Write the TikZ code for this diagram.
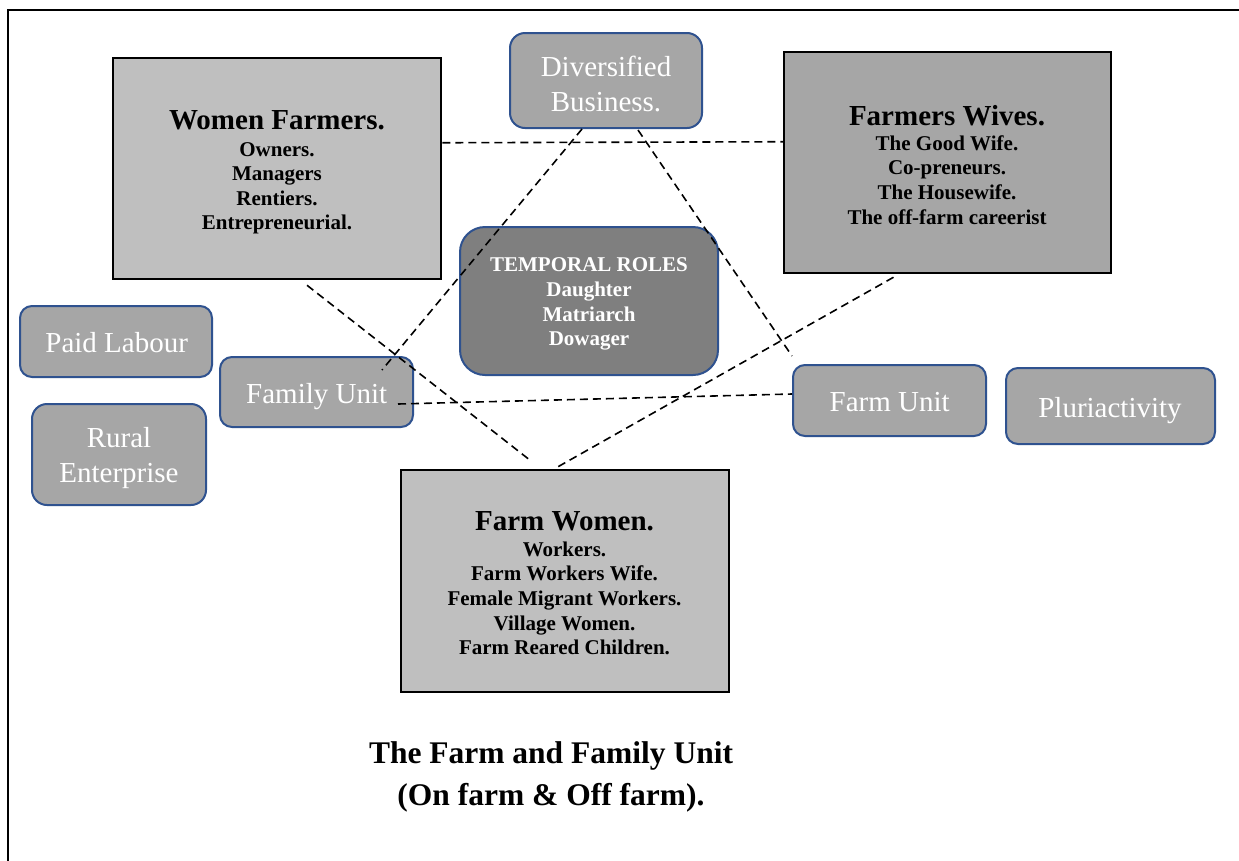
\documentclass[tikz,border=0pt]{standalone}
\usepackage{fontspec}
\setmainfont{Liberation Serif}
\usetikzlibrary{calc}
\definecolor{lgrey}{HTML}{BFBFBF}
\definecolor{mgrey}{HTML}{A6A6A6}
\definecolor{dgrey}{HTML}{7F7F7F}
\definecolor{bblue}{HTML}{2F528F}
\begin{document}
\begin{tikzpicture}[x=1pt,y=-1pt,
  sqbox/.style={draw=black, line width=2.5pt, inner sep=0pt},
  rbox/.style={draw=bblue, line width=2pt, fill=mgrey, inner sep=0pt},
  wlabel/.style={text=white, inner sep=0pt, font=\fontsize{29}{34.5}\selectfont, align=center},
  blabel/.style={text=black, inner sep=0pt, font=\bfseries\fontsize{21}{24.6}\selectfont, align=center},
  link/.style={draw=black, line width=1.6pt, dash pattern=on 8pt off 5pt},
  bigtitle/.style={inner sep=0pt, font=\bfseries\fontsize{31.5}{42}\selectfont, align=center},
]
\useasboundingbox (0,0) rectangle (1239,860);
\fill[white] (0,0) rectangle (1239,860);
\draw[line width=1.8pt] (8,870) -- (8,10) -- (1245,10);

% square boxes
\node[sqbox, fill=lgrey, minimum width=328pt, minimum height=221pt] (wf) at (277,168.5) {};
\node[sqbox, fill=mgrey, minimum width=327pt, minimum height=221pt] (fw) at (947.5,162.5) {};
\node[sqbox, fill=lgrey, minimum width=328pt, minimum height=222pt] (fwm) at (565,581) {};

% rounded boxes
\node[rbox, rounded corners=15pt, minimum width=192pt, minimum height=95pt] (div) at (606,80.5) {};
\node[rbox, fill=dgrey, rounded corners=25pt, minimum width=258pt, minimum height=148pt] (tr) at (589,301) {};
\node[rbox, rounded corners=12pt, minimum width=192pt, minimum height=71pt] (pl) at (116,341.5) {};
\node[rbox, rounded corners=12pt, minimum width=193pt, minimum height=70pt] (fam) at (316.5,392) {};
\node[rbox, rounded corners=15pt, minimum width=174pt, minimum height=101pt] (re) at (119,454.5) {};
\node[rbox, rounded corners=12pt, minimum width=193pt, minimum height=71pt] (farmu) at (889.5,400.5) {};
\node[rbox, rounded corners=12pt, minimum width=209pt, minimum height=76pt] (pluri) at (1110.5,406) {};

% texts
\node[blabel, anchor=north] (wfT) at (277,110) {{\fontsize{29}{29}\selectfont Women Farmers.}\\[2.4pt] Owners.\\ Managers\\ Rentiers.\\ Entrepreneurial.};
\node[blabel, anchor=north] (fwT) at (947,105) {{\fontsize{29}{29}\selectfont Farmers Wives.}\\[0.4pt] The Good Wife.\\ Co-preneurs.\\ The Housewife.\\ The off-farm careerist};
\node[blabel, anchor=north] (fwmT) at (564.5,511) {{\fontsize{29}{29}\selectfont Farm Women.}\\[1.4pt] Workers.\\ Farm Workers Wife.\\ Female Migrant Workers.\\ Village Women.\\ Farm Reared Children.};
\node[blabel, text=white, anchor=north] (trT) at (589,257.7) {TEMPORAL ROLES\\ Daughter\\ Matriarch\\ Dowager};
\node[wlabel, anchor=north] (divT) at (606,56.2) {Diversified\\ Business.};
\node[wlabel, anchor=north] (reT) at (119,427.2) {Rural\\ Enterprise};
\node[wlabel, anchor=base] (plT) at (116.7,352) {Paid Labour};
\node[wlabel, anchor=base] (famT) at (316.7,403) {Family Unit};
\node[wlabel, anchor=base] (farmuT) at (889.7,411) {Farm Unit};
\node[wlabel, anchor=base] (pluriT) at (1110,417) {Pluriactivity};

\node[bigtitle, anchor=north] (title) at (551,741.5) {The Farm and Family Unit\\ (On farm \& Off farm).};

% dashed connectors
\draw[link] ($(wf.north east)+(0,86)$) -- ($(fw.north west)+(0,91)$);
\draw[link] ($(div.south)+(-24,0)$) -- ($(fam.north east)+(-32,14)$);
\draw[link] ($(div.south)+(32,1)$) -- ($(farmu.north west)+(0,-8)$);
\draw[link] ($(wf.south)+(30,5)$) -- ($(fwm.north)+(-33,-7)$);
\draw[link] ($(fw.south)+(-54,3)$) -- ($(fwm.north)+(-7,-2)$);
\draw[link] ($(fam.east)+(-16,12)$) -- ($(farmu.west)+(0,-6.5)$);
\end{tikzpicture}
\end{document}
